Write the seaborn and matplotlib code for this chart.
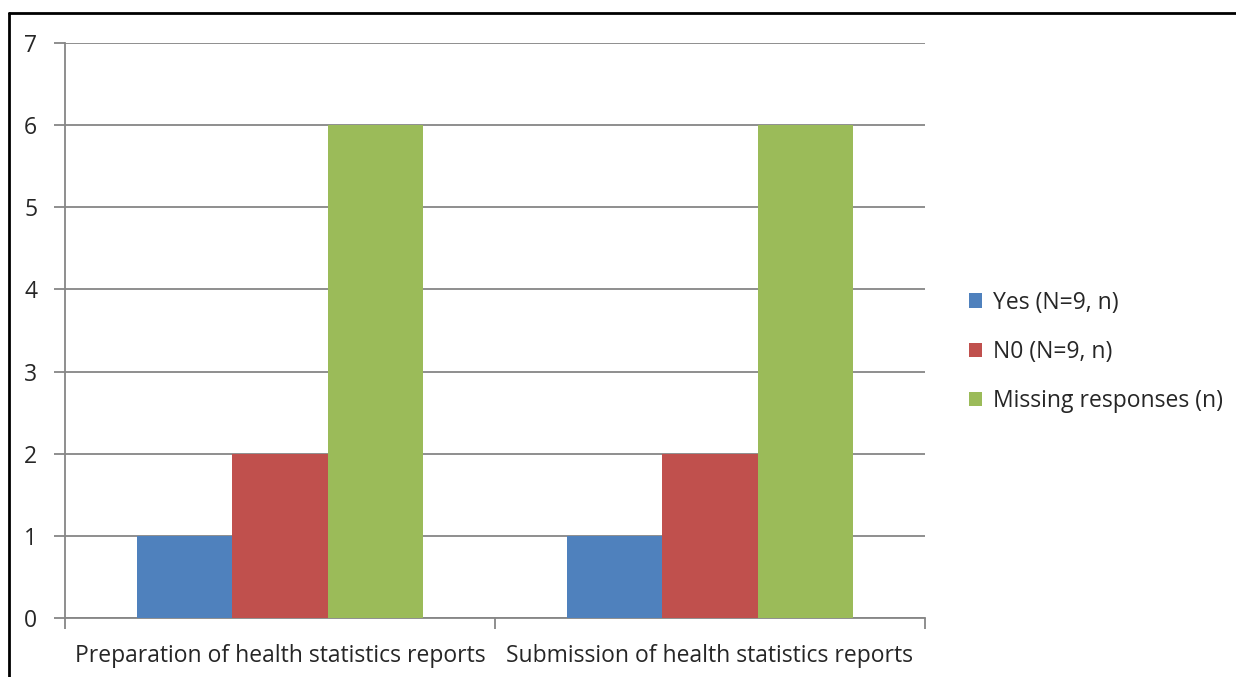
import pandas as pd
import matplotlib.pyplot as plt
import seaborn as sns
from matplotlib.lines import Line2D
from matplotlib.patches import Patch

categories = ["Preparation of health statistics reports",
              "Submission of health statistics reports"]
series = ["Yes (N=9, n)", "N0 (N=9, n)", "Missing responses (n)"]
yes_vals = [1, 1]
no_vals = [2, 2]
missing_vals = [6, 6]
colors = ["#4F81BD", "#C0504D", "#9BBB59"]

rows = []
for i, cat in enumerate(categories):
    for name, vals in zip(series, [yes_vals, no_vals, missing_vals]):
        rows.append({"category": cat, "series": name, "value": vals[i]})
df = pd.DataFrame(rows)

sns.set_style("white")
plt.rcParams["font.family"] = ["Open Sans", "DejaVu Sans"]

fig = plt.figure(figsize=(12.36, 6.77), dpi=100)
ax = fig.add_axes([65 / 1236, 1 - 618 / 677, 860 / 1236, 575 / 677])

sns.barplot(data=df, x="category", y="value", hue="series",
            palette=colors, width=0.663, saturation=1, ax=ax,
            legend=False, edgecolor="none", linewidth=0, zorder=3)

ax.set_ylim(0, 7)
ax.set_xlim(-0.5, 1.5)
ax.set_yticks(range(0, 8))
ax.yaxis.grid(True, color="#868686", linewidth=1.3, zorder=0)
ax.set_axisbelow(True)
for s in ["top", "right"]:
    ax.spines[s].set_visible(False)
for s in ["left", "bottom"]:
    ax.spines[s].set_color("#868686")
    ax.spines[s].set_linewidth(1.3)
ax.tick_params(axis="y", which="major", length=8, width=1.3, color="#868686",
               labelsize=16.5, pad=12, left=True)
ax.set_xticks([0, 1])
ax.set_xticklabels(categories)
ax.tick_params(axis="x", which="major", length=0, labelsize=16.5, pad=19)
ax.set_xticks([-0.5, 0.5, 1.5], minor=True)
ax.tick_params(axis="x", which="minor", length=8, width=1.3, color="#868686",
               bottom=True)
ax.set_xlabel("")
ax.set_ylabel("")

handles = [Patch(facecolor=c, edgecolor="none") for c in colors]
fig.legend(handles, series, loc="center left", bbox_to_anchor=(948 / 1236, 1 - 352 / 677),
           frameon=False, fontsize=16.5, handlelength=0.6, handleheight=0.6,
           handletextpad=0.45, labelspacing=1.1)

fig.add_artist(Line2D([9 / 1236, 9 / 1236], [0, 1 - 13 / 677], color="black", linewidth=2))
fig.add_artist(Line2D([9 / 1236, 1], [1 - 13 / 677, 1 - 13 / 677], color="black", linewidth=2))

plt.savefig("out.png", dpi=100)
plt.close()
